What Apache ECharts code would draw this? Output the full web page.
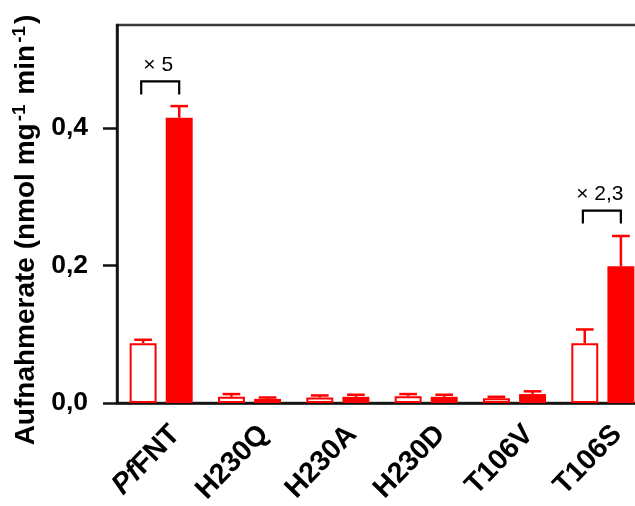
<!DOCTYPE html>
<html>
<head>
<meta charset="utf-8">
<script src="https://cdn.jsdelivr.net/npm/echarts@6/dist/echarts.min.js"></script>
<style>html,body{margin:0;padding:0;background:#fff;}#c{width:635px;height:506px;}</style>
</head>
<body>
<div id="c"></div>
<script>
// ---- data ----
const categories = ['PfFNT', 'H230Q', 'H230A', 'H230D', 'T106V', 'T106S'];
const openMeans   = [0.087, 0.009, 0.008, 0.010, 0.007, 0.087];
const openUpper   = [0.092, 0.013, 0.011, 0.013, 0.009, 0.107];
const filledMeans = [0.415, 0.006, 0.009, 0.009, 0.013, 0.199];
const filledUpper = [0.432, 0.008, 0.012, 0.012, 0.017, 0.243];
const yTickValues = [0, 0.2, 0.4];
const yTickLabels = ['0,0', '0,2', '0,4'];
const bracketCats   = [0, 5];
const bracketTop    = [0.468, 0.280];
const bracketLeg    = [0.449, 0.261];
const bracketLabels = ['× 5', '× 2,3'];

const FONT = '"Liberation Sans", Arial, sans-serif';
const RED = '#ff0000';
const OFF = 0.2046;

function errorSeries(means, uppers, sign) {
  return {
    type: 'custom',
    z: 5,
    data: means.map((m, i) => [i, m, uppers[i]]),
    encode: { x: 0, y: [1, 2] },
    renderItem: function (params, api) {
      const i = api.value(0);
      const band = api.size([1, 0])[0];
      const p0 = api.coord([i, api.value(1)]);
      const p1 = api.coord([i, api.value(2)]);
      const x = p0[0] + sign * OFF * band;
      const cw = band * 0.1;
      return {
        type: 'group',
        children: [
          { type: 'line', shape: { x1: x, y1: p0[1], x2: x, y2: p1[1] }, style: { stroke: RED, lineWidth: 2.5 } },
          { type: 'line', shape: { x1: x - cw, y1: p1[1], x2: x + cw, y2: p1[1] }, style: { stroke: RED, lineWidth: 2.5 } }
        ]
      };
    }
  };
}

const chart = echarts.init(document.getElementById('c'), null, { renderer: 'canvas' });
chart.setOption({
  animation: false,
  backgroundColor: '#fff',
  grid: { left: 117, right: -12, top: 25, bottom: 103, outerBoundsMode: 'none', containLabel: false, show: true, borderColor: '#3a3a3a', borderWidth: 2.5, backgroundColor: 'transparent' },
  xAxis: {
    type: 'category',
    data: categories,
    axisLine: { lineStyle: { color: '#111', width: 2.5 } },
    axisTick: { alignWithLabel: true, length: 14, lineStyle: { color: '#111', width: 2.5 } },
    axisLabel: {
      rotate: 46, margin: 13, fontFamily: FONT, fontWeight: 'bold', fontSize: 28.5, color: '#000',
      padding: [40, 0, 0, 0],
      formatter: function (v) {
        if (v === 'PfFNT') return '{i|Pf}{n|FNT}';
        return '{n|' + v + '}';
      },
      rich: {
        i: { fontFamily: FONT, fontWeight: 'bold', fontStyle: 'italic', fontSize: 28.5, color: '#000' },
        n: { fontFamily: FONT, fontWeight: 'bold', fontSize: 28.5, color: '#000' }
      }
    }
  },
  yAxis: {
    type: 'value',
    min: 0, max: 0.55,
    splitLine: { show: false },
    axisLine: { show: true, lineStyle: { color: '#111', width: 2.5 } },
    axisTick: { show: true, length: 14, customValues: yTickValues, lineStyle: { color: '#111', width: 2.5 } },
    axisLabel: {
      margin: 29, fontFamily: FONT, fontWeight: 'bold', fontSize: 26.5, color: '#000',
      customValues: yTickValues,
      formatter: function (v) {
        const k = yTickValues.findIndex(t => Math.abs(t - v) < 1e-9);
        return k >= 0 ? yTickLabels[k] : '';
      }
    },
    name: '{b|Aufnahmerate (nmol mg}{s|-1}{b| min}{s|-1}{b|)}',
    nameLocation: 'middle',
    nameGap: 63,
    nameRotate: 90,
    nameTextStyle: {
      padding: [0, 32, 0, 0],
      rich: {
        b: { fontFamily: FONT, fontWeight: 'bold', fontSize: 28, color: '#000', lineHeight: 32 },
        s: { fontFamily: FONT, fontWeight: 'bold', fontSize: 19, color: '#000', verticalAlign: 'top', lineHeight: 32, padding: [0, 2, 10, 2] }
      }
    }
  },
  series: [
    {
      type: 'bar', name: 'open', data: openMeans, barWidth: '30.5%', barGap: '34%',
      itemStyle: { color: '#fff', borderColor: RED, borderWidth: 2 }
    },
    {
      type: 'bar', name: 'filled', data: filledMeans, barWidth: '30.5%', barGap: '34%',
      itemStyle: { color: RED }
    },
    errorSeries(openMeans, openUpper, -1),
    errorSeries(filledMeans, filledUpper, 1),
    {
      type: 'custom',
      z: 6,
      data: bracketCats.map((c, k) => [c, bracketTop[k], bracketLeg[k], bracketLabels[k]]),
      encode: { x: 0, y: [1, 2] },
      renderItem: function (params, api) {
        const i = api.value(0);
        const band = api.size([1, 0])[0];
        const pt = api.coord([i, api.value(1)]);
        const pl = api.coord([i, api.value(2)]);
        const xl = pt[0] - 0.226 * band;
        const xr = pt[0] + 0.204 * band;
        return {
          type: 'group',
          children: [
            { type: 'polyline', shape: { points: [[xl, pl[1]], [xl, pt[1]], [xr, pt[1]], [xr, pl[1]]] }, style: { stroke: '#000', lineWidth: 2.2, fill: null } },
            { type: 'text', style: { text: bracketLabels[params.dataIndex], x: (xl + xr) / 2 - 2, y: pt[1] - 6, align: 'center', verticalAlign: 'bottom', font: '21px ' + FONT, fill: '#000' } }
          ]
        };
      }
    }
  ]
});
</script>
</body>
</html>
